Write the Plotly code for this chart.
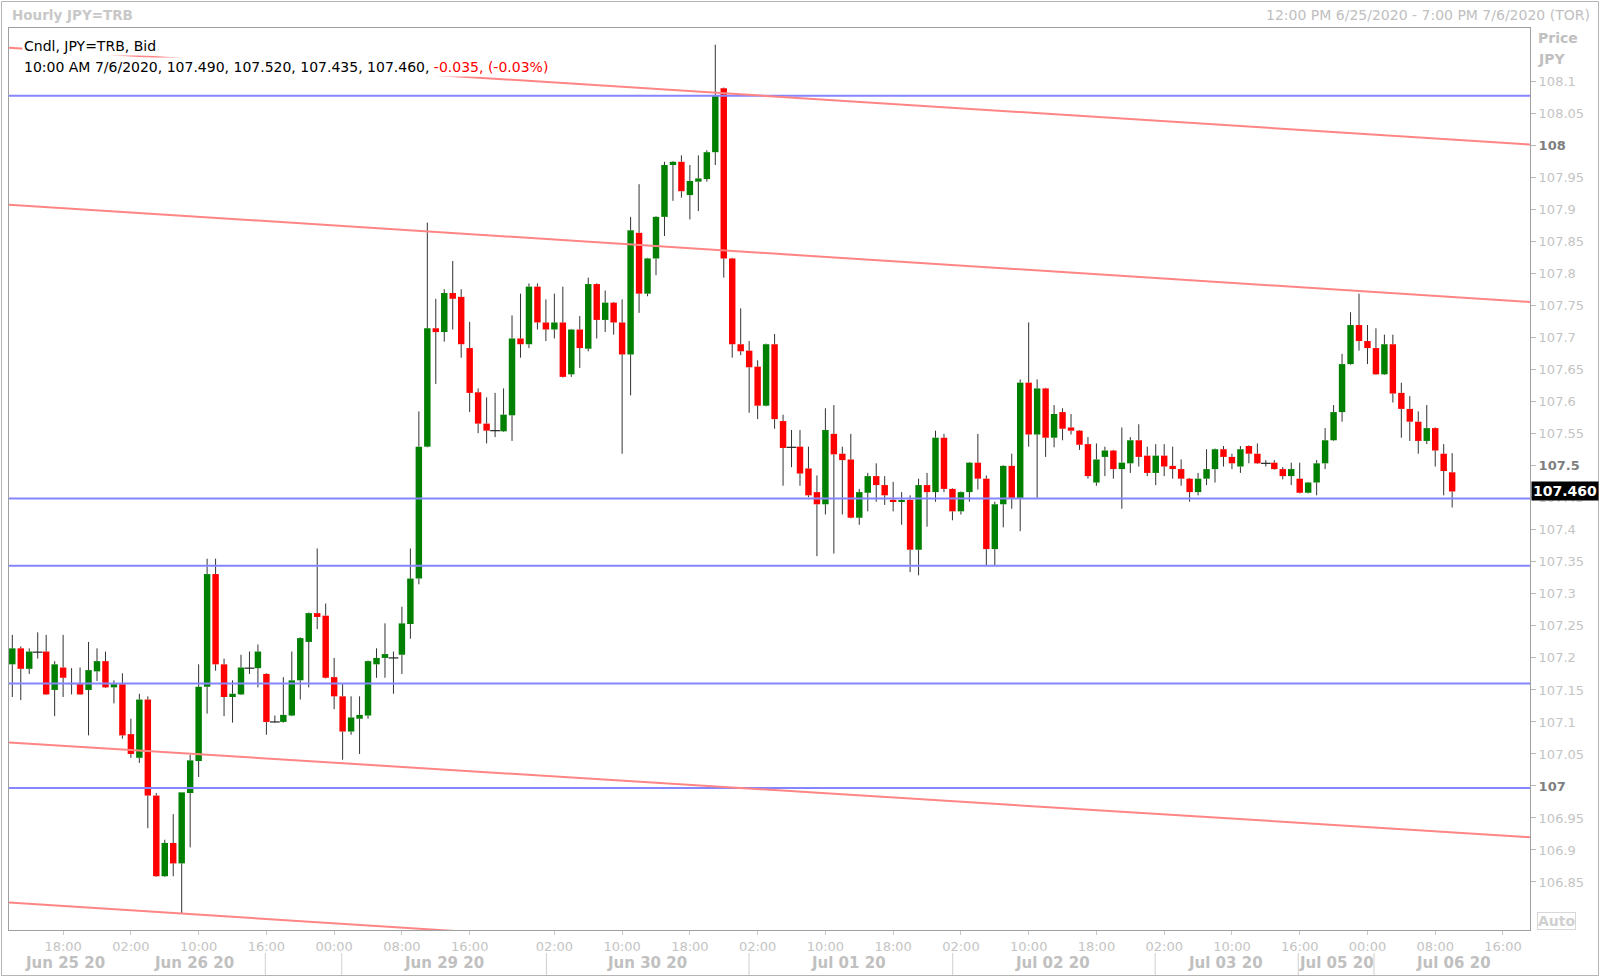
import plotly.graph_objects as go

# ---------------- data (hourly candles, JPY=TRB bid) ----------------
opens = [107.190,107.215,107.183,107.209,107.210,107.150,107.185,107.160,107.159,107.150,
         107.179,107.195,107.154,107.159,107.081,107.044,107.135,106.985,106.859,106.911,
         106.879,106.989,107.039,107.155,107.331,107.190,107.139,107.143,107.184,107.184,
         107.175,107.100,107.100,107.110,107.165,107.225,107.270,107.266,107.170,107.140,
         107.085,107.105,107.110,107.190,107.200,107.200,107.205,107.253,107.324,107.530,
         107.715,107.709,107.770,107.764,107.684,107.615,107.566,107.555,107.554,107.579,
         107.699,107.690,107.780,107.724,107.713,107.724,107.643,107.713,107.683,107.784,
         107.728,107.755,107.724,107.674,107.864,107.769,107.824,107.889,107.970,107.975,
         107.923,107.944,107.948,107.990,108.090,107.824,107.690,107.680,107.655,107.594,
         107.690,107.570,107.529,107.530,107.496,107.459,107.440,107.550,107.519,107.510,
         107.419,107.458,107.484,107.470,107.447,107.444,107.447,107.369,107.470,107.459,
         107.544,107.464,107.429,107.459,107.505,107.480,107.370,107.440,107.500,107.450,
         107.630,107.549,107.621,107.544,107.584,107.560,107.555,107.534,107.474,107.514,
         107.524,107.495,107.504,107.540,107.516,107.489,107.516,107.500,107.495,107.480,
         107.459,107.480,107.495,107.526,107.514,107.499,107.531,107.519,107.504,107.505,
         107.495,107.484,107.480,107.458,107.474,107.504,107.540,107.584,107.659,107.720,
         107.695,107.684,107.643,107.690,107.614,107.589,107.569,107.539,107.559,107.519,
         107.490]
highs = [107.236,107.218,107.215,107.240,107.236,107.195,107.236,107.184,107.185,107.225,
         107.215,107.210,107.165,107.176,107.105,107.144,107.140,106.989,106.916,106.956,
         106.990,107.049,107.190,107.355,107.355,107.199,107.165,107.205,107.210,107.221,
         107.176,107.110,107.170,107.210,107.232,107.271,107.371,107.285,107.200,107.159,
         107.140,107.140,107.196,107.215,107.254,107.210,107.280,107.371,107.585,107.880,
         107.761,107.776,107.820,107.776,107.725,107.621,107.607,107.614,107.621,107.735,
         107.769,107.785,107.785,107.760,107.769,107.780,107.714,107.734,107.794,107.785,
         107.774,107.756,107.760,107.889,107.940,107.825,107.890,107.975,107.976,107.985,
         107.970,107.985,107.993,108.158,108.091,107.825,107.746,107.695,107.665,107.691,
         107.706,107.580,107.556,107.556,107.530,107.485,107.590,107.595,107.530,107.550,
         107.464,107.489,107.504,107.484,107.475,107.459,107.454,107.480,107.489,107.555,
         107.550,107.465,107.460,107.506,107.550,107.485,107.444,107.501,107.519,107.635,
         107.724,107.635,107.622,107.595,107.590,107.581,107.556,107.545,107.535,107.530,
         107.525,107.560,107.545,107.565,107.530,107.534,107.534,107.530,107.510,107.481,
         107.489,107.526,107.527,107.531,107.519,107.531,107.532,107.535,107.509,107.509,
         107.498,107.505,107.505,107.475,107.509,107.559,107.595,107.675,107.740,107.769,
         107.720,107.715,107.705,107.705,107.630,107.609,107.585,107.595,107.560,107.534,
         107.520]
lows = [107.139,107.134,107.175,107.199,107.142,107.109,107.139,107.143,107.142,107.079,
        107.164,107.153,107.129,107.074,107.044,107.036,106.934,106.858,106.858,106.859,
        106.800,106.904,107.014,107.113,107.180,107.109,107.099,107.142,107.175,107.154,
        107.080,107.099,107.099,107.109,107.135,107.154,107.245,107.168,107.120,107.041,
        107.080,107.050,107.105,107.169,107.169,107.144,107.175,107.230,107.315,107.529,
        107.628,107.694,107.713,107.669,107.584,107.551,107.535,107.545,107.553,107.539,
        107.669,107.684,107.713,107.695,107.699,107.638,107.639,107.653,107.679,107.699,
        107.709,107.705,107.519,107.610,107.739,107.765,107.798,107.859,107.914,107.919,
        107.885,107.898,107.944,107.970,107.794,107.669,107.673,107.583,107.573,107.593,
        107.558,107.469,107.498,107.469,107.451,107.359,107.424,107.363,107.424,107.418,
        107.408,107.429,107.444,107.439,107.429,107.408,107.334,107.329,107.405,107.444,
        107.459,107.415,107.424,107.444,107.463,107.345,107.345,107.404,107.433,107.398,
        107.530,107.450,107.514,107.529,107.540,107.549,107.525,107.480,107.469,107.484,
        107.480,107.433,107.489,107.499,107.484,107.470,107.484,107.480,107.469,107.444,
        107.454,107.470,107.474,107.499,107.495,107.489,107.504,107.503,107.499,107.494,
        107.479,107.470,107.457,107.457,107.454,107.495,107.539,107.569,107.658,107.680,
        107.659,107.642,107.642,107.599,107.544,107.539,107.519,107.534,107.499,107.454,
        107.435]
closes = [107.215,107.183,107.210,107.209,107.143,107.190,107.169,107.160,107.143,107.181,
          107.195,107.154,107.159,107.079,107.050,107.135,106.985,106.859,106.911,106.879,
          106.990,107.040,107.155,107.331,107.190,107.139,107.144,107.185,107.184,107.210,
          107.100,107.100,107.111,107.165,107.231,107.270,107.264,107.169,107.140,107.085,
          107.107,107.111,107.195,107.200,107.206,107.200,107.254,107.324,107.530,107.715,
          107.709,107.770,107.761,107.690,107.614,107.566,107.555,107.555,107.580,107.699,
          107.690,107.780,107.724,107.713,107.724,107.639,107.713,107.684,107.784,107.728,
          107.755,107.724,107.674,107.868,107.769,107.824,107.889,107.970,107.975,107.929,
          107.945,107.949,107.990,108.079,107.824,107.690,107.679,107.654,107.594,107.690,
          107.573,107.528,107.529,107.488,107.454,107.440,107.556,107.518,107.509,107.419,
          107.459,107.484,107.470,107.454,107.444,107.446,107.369,107.470,107.459,107.544,
          107.464,107.429,107.459,107.505,107.480,107.370,107.440,107.500,107.450,107.630,
          107.549,107.621,107.544,107.581,107.558,107.555,107.533,107.484,107.510,107.524,
          107.495,107.505,107.540,107.514,107.489,107.516,107.499,107.495,107.480,107.459,
          107.480,107.495,107.526,107.514,107.504,107.526,107.519,107.504,107.504,107.495,
          107.484,107.495,107.458,107.474,107.504,107.540,107.584,107.659,107.720,107.695,
          107.684,107.643,107.690,107.613,107.589,107.569,107.539,107.559,107.524,107.492,
          107.460]

last_label = "10:00 AM 7/6/2020"
last_change = -0.035
last_change_pct = -0.03

# x-axis labelling (candle index -> label)
time_tick_idx = [6, 14, 22, 30, 38, 46, 54, 64, 72, 80, 88, 96, 104, 112, 120, 128,
                 136, 144, 152, 160, 168, 176]
time_tick_text = ["18:00", "02:00", "10:00", "16:00", "00:00", "08:00", "16:00", "02:00",
                  "10:00", "18:00", "02:00", "10:00", "18:00", "02:00", "10:00", "18:00",
                  "02:00", "10:00", "16:00", "00:00", "08:00", "16:00"]
date_labels = ["Jun 25 20", "Jun 26 20", "Jun 29 20", "Jun 30 20", "Jul 01 20",
               "Jul 02 20", "Jul 03 20", "Jul 05 20", "Jul 06 20"]
date_label_idx = [6.2, 21.5, 51.0, 74.9, 98.7, 122.8, 143.2, 156.3, 170.1]
date_separator_idx = [29.87, 38.9, 63.06, 86.98, 111.03, 134.93, 151.83, 160.77]

# y-axis ticks
y_tick_vals = [106.85, 106.9, 106.95, 107.0, 107.05, 107.1, 107.15, 107.2, 107.25, 107.3,
               107.35, 107.4, 107.45, 107.5, 107.55, 107.6, 107.65, 107.7, 107.75, 107.8,
               107.85, 107.9, 107.95, 108.0, 108.05, 108.1]
y_tick_major = [107.0, 107.5, 108.0]

# drawn study lines
support_levels = [108.078, 107.449, 107.344, 107.160, 106.997]
channel_start = [108.153, 107.908, 107.068, 106.818]   # value at left edge
channel_end = [108.002, 107.756, 106.920, 106.666]     # value at right edge

# ---------------- layout geometry ----------------
W, H = 1600, 978
PL, PR, PT, PB = 9, 1530, 28, 930
X_RANGE = [-0.39, 179.19]
Y_RANGE = [106.775, 108.184]
FONT = "DejaVu Sans"


def px(x):
    return (x - PL) / (PR - PL)


def py(y):
    return (PB - y) / (PB - PT)


n = len(opens)
idx = list(range(n))
up = [i for i in idx if closes[i] > opens[i]]
dn = [i for i in idx if closes[i] < opens[i]]
doji = [i for i in idx if closes[i] == opens[i]]

fig = go.Figure()

# bodies
for sel, col in ((up, "#008000"), (dn, "#ff0000")):
    fig.add_trace(go.Bar(
        x=sel,
        base=[min(opens[i], closes[i]) for i in sel],
        y=[abs(closes[i] - opens[i]) for i in sel],
        width=0.76, marker=dict(color=col, line=dict(width=0)),
        hoverinfo="skip", showlegend=False))

# wicks (above and below the body)
wx, wy = [], []
for i in idx:
    top = max(opens[i], closes[i])
    bot = min(opens[i], closes[i])
    wx += [i, i, None, i, i, None]
    wy += [highs[i], top, None, bot, lows[i], None]
fig.add_trace(go.Scatter(x=wx, y=wy, mode="lines", line=dict(color="#333333", width=1),
                         hoverinfo="skip", showlegend=False))

# doji marks
fig.add_trace(go.Scatter(x=doji, y=[opens[i] for i in doji], mode="markers",
                         marker=dict(symbol="line-ew", size=7,
                                     line=dict(color="#222222", width=1.2)),
                         hoverinfo="skip", showlegend=False))

# support lines
for lvl in support_levels:
    fig.add_trace(go.Scatter(x=X_RANGE, y=[lvl, lvl], mode="lines",
                             line=dict(color="#8585ff", width=2),
                             hoverinfo="skip", showlegend=False))
# channel lines
for a, b in zip(channel_start, channel_end):
    fig.add_trace(go.Scatter(x=X_RANGE, y=[a, b], mode="lines",
                             line=dict(color="#ff8585", width=2),
                             hoverinfo="skip", showlegend=False))

# y tick labels
y_text = []
for v in y_tick_vals:
    s = f"{v:.2f}".rstrip("0").rstrip(".")
    if v in y_tick_major:
        y_text.append(f'<b><span style="color:#7f7f7f">{s}</span></b>')
    else:
        y_text.append(s)

ann = []
ann.append(dict(x=px(10), y=py(15), xref="paper", yref="paper", xanchor="left",
                yanchor="middle", showarrow=False, text="<b>Hourly JPY=TRB</b>",
                font=dict(family=FONT, size=13.5, color="#c8c8c8")))
ann.append(dict(x=px(1592), y=py(15), xref="paper", yref="paper", xanchor="right",
                yanchor="middle", showarrow=False,
                text="12:00 PM 6/25/2020 - 7:00 PM 7/6/2020 (TOR)",
                font=dict(family=FONT, size=14, color="#c0c0c0")))
ann.append(dict(x=px(22), y=py(46), xref="paper", yref="paper", xanchor="left",
                yanchor="middle", showarrow=False, text="Cndl, JPY=TRB, Bid",
                bgcolor="white", borderpad=1,
                font=dict(family=FONT, size=14, color="#000000")))
leg2 = (f"{last_label}, {opens[-1]:.3f}, {highs[-1]:.3f}, {lows[-1]:.3f}, {closes[-1]:.3f}, "
        f'<span style="color:#ff0000">{last_change:.3f}, ({last_change_pct:.2f}%)</span>')
ann.append(dict(x=px(22), y=py(67), xref="paper", yref="paper", xanchor="left",
                yanchor="middle", showarrow=False, text=leg2, bgcolor="white", borderpad=1,
                font=dict(family=FONT, size=14, color="#000000")))
ann.append(dict(x=px(1536), y=py(38), xref="paper", yref="paper", xanchor="left",
                yanchor="middle", showarrow=False, text="<b>Price</b>",
                font=dict(family=FONT, size=14, color="#c0c0c0")))
ann.append(dict(x=px(1536), y=py(59), xref="paper", yref="paper", xanchor="left",
                yanchor="middle", showarrow=False, text="<b>JPY</b>",
                font=dict(family=FONT, size=14, color="#c0c0c0")))
ann.append(dict(x=px(1531), y=closes[-1], xref="paper", yref="y", xanchor="left",
                yanchor="middle", showarrow=False, text=f"<b>{closes[-1]:.3f}</b>",
                bgcolor="#000000", borderpad=1,
                font=dict(family=FONT, size=14, color="#ffffff")))
ann.append(dict(x=px(1556), y=py(920.5), xref="paper", yref="paper", xanchor="center",
                yanchor="middle", showarrow=False, text="<b>Auto</b>",
                bordercolor="#d8d8d8", borderwidth=1, borderpad=0,
                font=dict(family=FONT, size=14, color="#d0d0d0")))
for t, xi in zip(date_labels, date_label_idx):
    ann.append(dict(x=xi, y=py(963), xref="x", yref="paper", xanchor="center",
                    yanchor="middle", showarrow=False, text=f"<b>{t}</b>",
                    font=dict(family=FONT, size=15, color="#c0c0c0")))

shapes = []
for xi in date_separator_idx:
    shapes.append(dict(type="line", xref="x", yref="paper", x0=xi, x1=xi,
                       y0=py(953), y1=py(975), line=dict(color="#d0d0d0", width=1)))
shapes.append(dict(type="rect", xref="paper", yref="paper", x0=px(1.5), x1=px(1598.5),
                   y0=py(975.5), y1=py(1.5), line=dict(color="#b4b4b4", width=1)))

fig.update_layout(
    width=W, height=H,
    margin=dict(l=PL, r=W - PR, t=PT, b=H - PB, pad=0),
    paper_bgcolor="white", plot_bgcolor="white",
    barmode="overlay", showlegend=False, hovermode=False,
    font=dict(family=FONT, size=13, color="#c0c0c0"),
    annotations=ann, shapes=shapes,
    xaxis=dict(range=X_RANGE, tickmode="array", tickvals=time_tick_idx,
               ticktext=time_tick_text, showgrid=False, zeroline=False,
               showline=True, mirror=True, linecolor="#a0a0a0", linewidth=1,
               ticks="outside", ticklen=4, tickcolor="#c8c8c8",
               tickfont=dict(family=FONT, size=13, color="#c4c4c4")),
    yaxis=dict(range=Y_RANGE, side="right", tickmode="array", tickvals=y_tick_vals,
               ticktext=y_text, showgrid=False, zeroline=False,
               showline=True, mirror=True, linecolor="#a0a0a0", linewidth=1,
               ticks="outside", ticklen=5, tickcolor="#b8b8b8",
               tickfont=dict(family=FONT, size=13, color="#c4c4c4")),
)

fig.write_html("out.html", config={"displayModeBar": False},
               post_script="document.body.style.margin='0px';"
                           "document.body.style.overflow='hidden';")
